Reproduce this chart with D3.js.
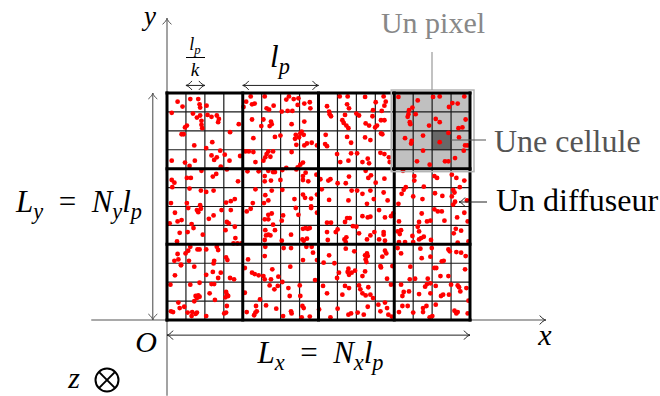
<!DOCTYPE html>
<html>
<head>
<meta charset="utf-8">
<script src="https://cdn.jsdelivr.net/npm/d3@7"></script>
<style>
  body { margin: 0; background: #fff; }
  svg { display: block; font-family: "Liberation Serif", serif; }
</style>
</head>
<body>
<svg id="svg1" width="660" height="396"></svg>
<script>
// pixels and cells
var Nx = 4, Ny = 3, k = 4;
var pixelGris = [3, 2];          // pixel mis en evidence (colonne, ligne)
var celluleGrise = [14, 9];      // cellule mise en evidence

// diffuseurs, en unites de cellule (x vers la droite, y vers le haut)
var diffuseursHaut = [
  [0.56,11.54],[0.82,11.28],[1.23,11.68],[1.65,11.68],[1.72,11.40],[1.75,11.23],[2.09,11.33],[4.42,11.82],[4.18,11.54],[4.49,11.40],[4.63,11.44],[4.04,11.26],[5.16,11.82],[5.26,11.19],
  [0.25,10.95],[1.37,10.91],[1.58,10.70],[1.75,10.81],[1.82,10.53],[1.82,10.32],[1.86,10.14],[2.14,10.84],[2.35,10.74],[2.63,10.81],[2.74,10.63],[2.70,10.46],[1.05,10.28],[0.95,10.18],[3.79,10.35],[4.49,10.60],[5.09,10.60],[4.98,10.25],
  [0.77,9.82],[0.88,9.82],[1.44,9.23],[2.39,9.40],[2.07,9.09],[3.33,9.93],[4.56,9.61],
  [0.25,8.42],[0.95,8.32],[1.47,8.42],[2.35,8.70],[2.63,8.60],[2.49,8.46],[3.05,8.74],[2.81,8.95],[3.30,8.42],[3.86,8.67],[4.14,8.91],[4.32,8.91],[4.56,8.88],[4.67,8.35],[5.09,8.42],[5.19,8.60],[5.26,8.77],[1.19,8.14],[1.82,7.89],[3.16,7.96],[2.84,8.11],
  [0.25,7.40],[0.39,7.26],[1.05,7.51],[1.26,7.51],[2.42,7.58],[2.60,7.72],[3.75,7.33],[4.25,7.86],[4.84,7.86],[5.16,7.61],[5.16,7.33],
  [0.28,7.02],[1.19,6.95],[1.79,6.84],[2.07,6.77],[2.46,6.84],[0.21,6.18],[1.05,6.18],[1.75,6.07],[3.12,6.21],[3.37,6.28],[3.58,6.39],[4.53,6.18],[4.67,6.91],[5.12,6.18],[5.19,6.60],
  [5.39,11.12],[5.63,11.33],[6.30,11.65],[6.44,11.82],[6.69,11.68],[6.94,11.72],[6.90,11.37],[7.25,11.44],[7.54,11.51],[7.57,11.19],[8.45,11.30],[9.12,11.82],[9.54,11.82],[9.51,11.40],[9.61,11.19],[10.46,11.79],
  [6.06,11.02],[6.37,11.05],[6.62,11.05],[5.49,10.49],[5.53,10.35],[5.42,10.25],[6.58,10.35],[7.25,10.49],[8.56,11.02],[8.59,10.88],[8.66,10.77],[9.40,10.84],[9.26,10.56],[9.33,10.42],[9.47,10.28],[9.58,10.14],[10.0,10.91],[10.14,10.81],[10.49,10.39],[10.67,10.28],
  [5.70,9.68],[5.99,9.75],[6.80,9.79],[6.76,9.58],[6.97,9.65],[7.04,9.86],[7.11,9.96],[7.22,9.79],[6.83,9.26],[7.25,9.23],[7.39,9.33],[7.64,9.37],[7.92,9.23],[8.38,9.79],[8.35,9.30],[8.45,9.19],[9.51,9.68],[9.72,9.37],[10.46,9.65],
  [5.35,8.91],[5.60,8.91],[5.46,8.63],[6.58,8.88],[7.18,8.32],[7.04,8.21],[6.90,8.07],[8.98,8.77],[9.15,8.35],[9.58,8.42],[9.72,8.81],[10.04,8.81],[10.60,8.53],[10.67,8.28],[10.32,8.35],
  [5.35,7.89],[5.60,7.82],[5.70,7.82],[5.49,7.37],[5.99,7.40],[6.09,7.93],[6.30,8.04],[6.83,7.96],[7.18,7.61],[7.18,7.40],[7.32,7.79],[7.46,7.33],[7.89,7.68],[8.10,7.44],[8.52,7.37],[8.63,7.44],[9.01,7.23],[9.44,7.23],[9.61,7.58],[10.49,7.89],[10.63,7.51],
  [5.53,6.84],[6.09,6.88],[5.35,6.32],[6.73,6.39],[7.18,6.63],[7.29,6.46],[7.61,6.42],[7.92,6.63],[8.17,6.91],[8.56,6.35],[9.58,6.32],[9.75,6.84],[10.04,6.84],[10.32,6.67],[10.56,6.14],[7.61,6.00],
  [11.44,11.82],[11.55,11.54],[11.48,11.33],[11.02,11.51],[10.88,11.09],[11.34,11.05],[12.22,11.79],[13.24,11.61],[12.96,11.23],[14.05,11.79],[14.40,11.82],[15.07,11.47],[14.89,11.26],[15.35,11.44],[15.70,11.82],
  [10.85,10.77],[11.30,10.56],[11.48,10.56],[11.09,10.28],[12.78,11.09],[12.75,10.88],[12.71,10.74],[12.82,10.46],[12.85,10.35],[13.13,10.88],[14.19,10.63],[14.40,10.46],[13.84,10.28],[15.39,10.14],[15.60,10.18],[15.77,10.60],[10.99,10.18],
  [11.30,9.86],[11.37,9.82],[10.74,9.51],[12.57,9.61],[12.92,9.47],[12.89,9.33],[13.52,9.75],[14.40,9.40],[14.86,9.89],[15.74,9.23],[15.88,9.23],[15.42,9.65],
  [11.27,8.84],[11.48,8.77],[11.72,8.60],[11.76,8.35],[13.52,8.95],[13.20,8.39],[13.87,8.21],[14.68,8.39],[14.86,8.39],[15.67,8.95],[15.21,8.56],
  [10.77,7.65],[11.48,7.47],[11.02,7.26],[12.46,7.89],[13.06,7.61],[13.06,7.37],[14.12,7.61],[14.26,7.51],[15.04,7.68],[15.28,7.51],[15.70,7.37],[15.46,7.02],[13.56,7.05],[12.61,7.02],
  [10.74,6.84],[10.92,6.39],[11.44,6.74],[11.65,6.32],[12.39,6.67],[12.50,6.88],[13.0,6.53],[13.49,6.39],[14.15,6.70],[14.54,6.56],[15.11,6.88],[15.18,6.74],[15.04,6.53],[15.21,6.25],[15.11,6.10],[15.84,6.32],[12.22,6.14]
];

var diffuseursBas = [
  [0.42,5.67],[0.56,5.21],[0.77,5.28],[1.12,5.92],[1.58,5.81],[1.65,5.70],[1.79,5.88],[1.30,5.07],[0.14,5.11],[2.21,5.35],[2.46,5.53],[2.88,5.81],[3.16,5.18],[3.26,5.11],[3.37,5.81],[3.58,4.93],[4.21,5.74],[4.42,5.88],[5.16,5.32],
  [0.67,4.61],[0.53,4.15],[1.09,4.65],[1.40,4.86],[1.89,4.51],[3.09,4.75],[3.61,4.33],[3.51,4.05],[3.72,4.05],[3.93,4.05],[5.19,4.75],[5.16,4.23],[5.23,4.47],
  [1.23,3.87],[1.12,3.66],[1.61,3.73],[1.72,3.73],[2.07,3.73],[2.63,3.87],[2.70,3.70],[0.56,3.49],[0.39,3.13],[0.60,3.20],[0.98,3.52],[1.16,3.13],[0.74,2.92],[2.49,3.13],[2.46,2.99],[3.12,3.31],[3.19,3.17],[4.28,3.20],[5.19,3.87],[5.16,3.38],
  [0.42,2.36],[0.74,2.89],[1.44,2.82],[2.07,2.39],[2.42,2.54],[2.70,2.22],[2.84,2.50],[3.33,2.22],[3.54,2.15],[4.11,2.75],[4.49,2.50],[4.63,2.43],[4.84,2.36],[5.09,2.32],[5.16,2.15],[2.35,1.90],[2.49,1.90],
  [0.18,1.87],[1.23,1.87],[1.72,1.97],[2.25,1.41],[1.51,1.27],[1.58,1.16],[1.65,1.30],[1.72,1.23],[1.44,0.99],[2.53,1.06],[3.12,1.48],[3.16,1.34],[3.23,1.27],[4.11,1.44],[4.91,1.09],[3.09,1.20],
  [0.60,0.92],[0.91,0.70],[0.67,0.63],[0.21,0.46],[0.32,0.42],[1.09,0.39],[1.33,0.42],[1.51,0.32],[1.58,0.39],[1.30,0.21],[2.07,0.21],[3.16,0.74],[3.02,0.35],[3.12,0.39],[4.21,0.42],[4.60,0.25],[4.67,0.39],[4.74,0.46],[4.70,0.74],[5.23,0.77],
  [5.35,5.56],[5.53,5.63],[5.35,5.32],[5.60,5.04],[6.13,5.53],[6.06,5.25],[6.80,5.92],[6.94,5.56],[7.61,5.92],[8.45,5.14],[8.66,5.14],[9.40,5.18],[9.51,5.39],[9.65,5.39],[9.82,4.96],[10.0,4.93],[10.32,5.49],[10.60,5.42],[7.92,5.67],
  [5.35,4.51],[5.46,4.47],[5.70,4.75],[6.06,4.19],[6.55,4.51],[7.18,4.82],[7.32,4.86],[7.43,4.82],[7.54,4.86],[7.15,4.26],[7.22,4.19],[7.39,4.30],[8.45,4.65],[8.49,4.23],[8.91,4.65],[9.01,4.79],[9.37,4.26],[9.47,4.37],[9.44,4.12],[10.56,4.26],[10.14,4.58],
  [6.16,3.80],[6.55,3.80],[7.36,3.87],[7.64,3.87],[7.71,3.56],[8.56,3.42],[9.44,3.77],[9.89,3.63],[10.46,3.42],[10.56,3.52],[10.60,3.38],[10.49,3.20],[7.18,3.17],[7.92,3.17],[8.27,3.03],[8.84,3.00],[10.53,3.06],
  [6.51,2.82],[5.56,2.68],[5.49,2.15],[5.88,2.29],[6.09,2.01],[7.82,2.11],[9.08,2.50],[8.98,2.22],[9.54,2.54],[9.61,2.39],[9.75,2.50],[9.58,2.71],[9.93,2.61],[10.32,2.32],[10.46,2.57],
  [5.42,1.83],[5.85,1.80],[5.67,1.62],[6.41,1.69],[7.01,1.83],[8.24,1.80],[8.45,1.41],[9.40,1.80],[9.61,1.69],[10.14,1.83],[10.21,1.62],[10.32,1.41],[10.49,1.30],[10.63,1.73],[6.48,1.27],[7.04,1.27],[9.26,1.34],
  [5.77,0.60],[6.55,0.46],[6.58,0.35],[6.13,0.21],[7.15,0.74],[7.22,0.63],[7.11,0.14],[7.54,0.18],[8.63,0.14],[9.01,0.60],[9.58,0.28],[9.72,0.35],[10.07,0.39],[10.39,0.28],[10.60,0.70],[8.03,0.56],
  [10.74,5.46],[11.20,5.81],[11.51,5.42],[11.83,5.49],[11.94,5.63],[12.25,5.21],[13.31,5.18],[13.45,5.63],[13.73,5.21],[13.91,5.25],[14.12,5.85],[14.30,5.74],[14.51,5.74],[14.65,5.25],[15.32,5.42],[15.70,5.67],[15.88,5.21],[13.24,4.93],
  [10.74,4.47],[11.20,4.26],[10.95,4.65],[11.44,4.65],[11.44,4.51],[11.51,4.19],[12.18,4.68],[12.29,4.54],[12.36,4.75],[12.25,4.12],[12.57,4.12],[12.96,4.44],[13.31,4.26],[13.42,4.33],[13.56,4.40],[13.94,4.23],[13.31,4.68],[15.14,4.58],[15.25,4.82],[15.53,4.72],[15.35,4.09],[15.92,4.15],[13.0,4.12],
  [11.51,3.66],[11.58,3.52],[11.37,3.35],[12.18,3.80],[12.36,3.52],[13.38,3.77],[13.45,3.27],[13.91,3.35],[14.51,3.10],[14.61,3.13],[14.86,3.73],[14.93,3.63],[15.28,3.59],[15.53,3.56],[15.77,3.38],[13.98,3.80],
  [11.27,2.85],[11.30,2.78],[11.90,2.85],[11.62,2.18],[12.85,2.82],[13.10,2.18],[12.82,2.15],[13.77,2.18],[14.12,2.75],[14.22,2.75],[14.44,2.32],[14.86,2.32],[15.74,2.68],
  [10.74,1.34],[10.88,1.16],[11.83,1.87],[12.36,1.87],[12.50,1.48],[12.78,1.51],[13.31,1.37],[13.63,1.76],[13.73,1.90],[13.91,1.94],[14.19,1.80],[14.47,1.27],[14.58,1.34],[14.89,1.34],[15.0,1.87],[15.35,1.83],[15.42,1.73],[15.49,1.51],[15.81,1.69],[15.92,1.02],[13.91,1.41],[12.43,1.27],
  [11.16,0.81],[11.51,0.92],[11.62,0.63],[11.27,0.46],[11.69,0.28],[11.87,0.18],[12.43,0.74],[12.25,0.42],[13.0,0.39],[13.52,0.63],[13.52,0.42],[13.70,0.74],[13.87,0.14],[14.01,0.21],[14.19,0.81],[15.18,0.49],[15.28,0.35],[15.35,0.42],[15.88,0.35],[12.71,0.74]
];

var svg = d3.select("#svg1");

var x = d3.scaleLinear().domain([0, Nx * k]).range([167, 470]);
var y = d3.scaleLinear().domain([0, Ny * k]).range([320, 93]);

// fleches facon LaTeX
var defs = svg.append("defs");
function marker(id, color) {
  defs.append("marker")
      .attr("id", id)
      .attr("viewBox", "-8 -6 10 12")
      .attr("refX", 0)
      .attr("refY", 0)
      .attr("markerWidth", 10)
      .attr("markerHeight", 12)
      .attr("markerUnits", "userSpaceOnUse")
      .attr("orient", "auto-start-reverse")
    .append("path")
      .attr("d", "M-6,-4.5 C-4,-1.8 -1.5,-0.4 0,0 C-1.5,0.4 -4,1.8 -6,4.5")
      .attr("fill", "none")
      .attr("stroke", color)
      .attr("stroke-width", 1);
}
marker("flecheNoire", "#222");
marker("flecheGrise", "#555");

// axes
svg.append("line")
    .attr("x1", x(-4)).attr("x2", x(20))
    .attr("y1", y(0)).attr("y2", y(0))
    .attr("stroke", "#555").attr("stroke-width", 1.2)
    .attr("marker-end", "url(#flecheNoire)");
svg.append("line")
    .attr("x1", x(0)).attr("x2", x(0))
    .attr("y1", y(-4)).attr("y2", y(15.95))
    .attr("stroke", "#666").attr("stroke-width", 1.2)
    .attr("marker-end", "url(#flecheGrise)");

// pixel et cellule en gris
svg.append("rect")
    .attr("x", x(pixelGris[0] * k))
    .attr("y", y((pixelGris[1] + 1) * k))
    .attr("width", x(k) - x(0))
    .attr("height", y(0) - y(k))
    .attr("fill", "#c0c0c0");
svg.append("rect")
    .attr("x", x(celluleGrise[0]))
    .attr("y", y(celluleGrise[1] + 1))
    .attr("width", x(1) - x(0))
    .attr("height", y(0) - y(1))
    .attr("fill", "#686868")
    .attr("stroke", "#555");

// grille des cellules
var grille = svg.append("g").attr("stroke", "#1a1a1a");
grille.selectAll(".vcell")
    .data(d3.range(0, Nx * k + 1).filter(function(d) { return d % k != 0; }))
    .enter().append("line")
    .attr("x1", function(d) { return x(d); }).attr("x2", function(d) { return x(d); })
    .attr("y1", y(0)).attr("y2", y(Ny * k))
    .attr("stroke-width", 1.2);
grille.selectAll(".hcell")
    .data(d3.range(0, Ny * k + 1).filter(function(d) { return d % k != 0; }))
    .enter().append("line")
    .attr("y1", function(d) { return y(d); }).attr("y2", function(d) { return y(d); })
    .attr("x1", x(0)).attr("x2", x(Nx * k))
    .attr("stroke-width", 1.2);

// diffuseurs
svg.append("g")
  .selectAll("circle")
  .data(diffuseursHaut.concat(diffuseursBas))
  .enter().append("circle")
    .attr("cx", function(d) { return x(d[0]); })
    .attr("cy", function(d) { return y(d[1]); })
    .attr("r", 2.4)
    .attr("fill", "#ff0000");

// bords des pixels
var bords = svg.append("g").attr("stroke", "#000").attr("stroke-width", 3).attr("stroke-linecap", "square");
bords.selectAll(".vpix")
    .data(d3.range(0, Nx + 1))
    .enter().append("line")
    .attr("x1", function(d) { return x(d * k); }).attr("x2", function(d) { return x(d * k); })
    .attr("y1", y(0)).attr("y2", y(Ny * k));
bords.selectAll(".hpix")
    .data(d3.range(0, Ny + 1))
    .enter().append("line")
    .attr("y1", function(d) { return y(d * k); }).attr("y2", function(d) { return y(d * k); })
    .attr("x1", x(0)).attr("x2", x(Nx * k));

// cadre autour du pixel
svg.append("rect")
    .attr("x", x(pixelGris[0] * k) - 3)
    .attr("y", y((pixelGris[1] + 1) * k) - 3)
    .attr("width", x(k) - x(0) + 7)
    .attr("height", y(0) - y(k) + 6)
    .attr("fill", "none")
    .attr("stroke", "#b4b4b4")
    .attr("stroke-width", 1.5);

// cotes
function cote(x1, y1, x2, y2, color, id) {
  svg.append("line")
      .attr("x1", x1).attr("y1", y1).attr("x2", x2).attr("y2", y2)
      .attr("stroke", color).attr("stroke-width", 1)
      .attr("marker-start", "url(#" + id + ")")
      .attr("marker-end", "url(#" + id + ")");
}
cote(x(-0.75), y(0), x(-0.75), y(Ny * k), "#444", "flecheGrise");
cote(x(0), y(-0.8), x(Nx * k), y(-0.8), "#222", "flecheNoire");
cote(x(k), y(12.4), x(2 * k), y(12.4), "#222", "flecheNoire");
cote(x(1), y(12.4), x(2), y(12.4), "#222", "flecheNoire");

// texte mathematique
function maths(xp, yp, parts, size, anchor) {
  var t = svg.append("text")
      .attr("x", xp).attr("y", yp)
      .attr("font-size", size)
      .attr("text-anchor", anchor || "start")
      .attr("fill", "#000");
  var bas = false;
  parts.forEach(function(p) {
    var s = t.append("tspan").text(p[0]);
    if (p[1] == "i" || p[1] == "s") s.attr("font-style", "italic");
    if (p[1] == "s") {
      s.attr("font-size", size * 0.72);
      if (!bas) { s.attr("dy", size * 0.22); bas = true; }
    } else if (bas) {
      s.attr("dy", -size * 0.22); bas = false;
    }
  });
  return t;
}

maths(150, 25, [["y", "i"]], 27, "middle");
maths(545, 345, [["x", "i"]], 30, "middle");
maths(146, 352, [["O", "i"]], 30, "middle");
maths(74, 388, [["z", "i"]], 30, "middle");

// z sortant (croix dans un cercle)
var otimes = svg.append("g").attr("stroke", "#000").attr("stroke-width", 2).attr("fill", "none");
otimes.append("circle").attr("cx", 107).attr("cy", 380).attr("r", 11.5);
otimes.append("line").attr("x1", 107 - 8.1).attr("y1", 380 - 8.1).attr("x2", 107 + 8.1).attr("y2", 380 + 8.1);
otimes.append("line").attr("x1", 107 - 8.1).attr("y1", 380 + 8.1).attr("x2", 107 + 8.1).attr("y2", 380 - 8.1);

var egal = "\u2002=\u2002";
maths(16, 212, [["L", "i"], ["y", "s"], [egal, "r"], ["N", "i"], ["y", "s"], ["l", "i"], ["p", "s"]], 31);
maths(x(Nx * k / 2) + 2, 363, [["L", "i"], ["x", "s"], [egal, "r"], ["N", "i"], ["x", "s"], ["l", "i"], ["p", "s"]], 31, "middle");
maths(270, 67, [["l", "i"], ["p", "s"]], 31);

// l_p / k
maths(195, 50, [["l", "i"], ["p", "s"]], 18, "middle");
svg.append("line")
    .attr("x1", 186).attr("x2", 205).attr("y1", 57.5).attr("y2", 57.5)
    .attr("stroke", "#000").attr("stroke-width", 1);
maths(195, 76, [["k", "i"]], 19, "middle");

// annotations
svg.append("line")
    .attr("x1", 432).attr("x2", 432).attr("y1", 52).attr("y2", y(12) - 3)
    .attr("stroke", "#999").attr("stroke-width", 1.2);
svg.append("text")
    .attr("x", 433).attr("y", 33)
    .attr("text-anchor", "middle")
    .attr("font-size", 30)
    .attr("fill", "#888")
    .text("Un pixel");

svg.append("line")
    .attr("x1", x(celluleGrise[0] + 1)).attr("x2", 486)
    .attr("y1", 140).attr("y2", 140)
    .attr("stroke", "#555").attr("stroke-width", 1.2);
svg.append("text")
    .attr("x", 494).attr("y", 152)
    .attr("font-size", 32)
    .attr("fill", "#555")
    .text("Une cellule");

svg.append("line")
    .attr("x1", 487).attr("x2", 459)
    .attr("y1", 202).attr("y2", 202)
    .attr("stroke", "#222").attr("stroke-width", 1)
    .attr("marker-end", "url(#flecheNoire)");
svg.append("text")
    .attr("x", 496).attr("y", 211)
    .attr("font-size", 32)
    .attr("fill", "#000")
    .text("Un diffuseur");
</script>
</body>
</html>
